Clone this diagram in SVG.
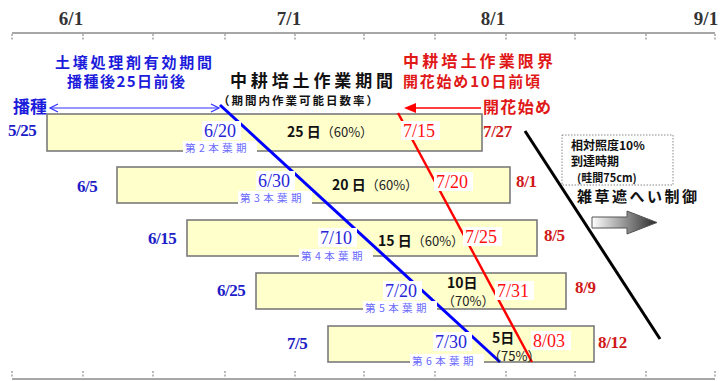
<svg xmlns="http://www.w3.org/2000/svg" width="726" height="381" viewBox="0 0 726 381">
<style>
.axis{stroke:#8a8a8a;stroke-width:1.6;fill:none}
.tick{stroke:#8a8a8a;stroke-width:1.2;stroke-dasharray:2 1.5}
.alab{font-family:'Liberation Serif',serif;font-weight:bold;font-size:19px;fill:#333}
.bar{fill:#ffffcc;stroke:#7a7a7a;stroke-width:1.6}
.ldate{font-family:'Liberation Serif',serif;font-weight:bold;font-size:17px;fill:#1c1cc8;letter-spacing:-0.5px}
.rdate{font-family:'Liberation Serif',serif;font-weight:bold;font-size:17px;fill:#d01818;letter-spacing:-0.3px}
.bdate{font-family:'Liberation Serif',serif;font-size:18px;fill:#2626d6}
.redd{font-family:'Liberation Serif',serif;font-size:18px;fill:#ff1010}
.leaf{font-family:'Noto Sans CJK JP',sans-serif;font-size:10.5px;fill:#6a6aff;letter-spacing:3.4px}
.wbg{fill:#fff}
.cj{font-family:'Noto Sans CJK JP',sans-serif}
.days{font-family:'Noto Sans CJK JP',sans-serif;font-size:14px;fill:#111;font-weight:bold}
.pct{font-family:'Noto Sans CJK JP',sans-serif;font-size:13px;fill:#222}
</style>
<defs>
<linearGradient id="grad" x1="0" y1="0" x2="1" y2="0">
<stop offset="0" stop-color="#ffffff"/>
<stop offset="1" stop-color="#2a2a2a"/>
</linearGradient>
</defs>

<g id="axes">
<line class="axis" x1="12" y1="33" x2="715" y2="33"/>
<line class="axis" x1="12" y1="379" x2="715" y2="379"/>
<g id="ticks-top">
<line class="tick" x1="12" y1="34" x2="12" y2="41"/>
<line class="tick" x1="83" y1="34" x2="83" y2="41"/>
<line class="tick" x1="153" y1="34" x2="153" y2="41"/>
<line class="tick" x1="225" y1="34" x2="225" y2="41"/>
<line class="tick" x1="295" y1="34" x2="295" y2="41"/>
<line class="tick" x1="364" y1="34" x2="364" y2="41"/>
<line class="tick" x1="435" y1="34" x2="435" y2="41"/>
<line class="tick" x1="506" y1="34" x2="506" y2="41"/>
<line class="tick" x1="575" y1="34" x2="575" y2="41"/>
<line class="tick" x1="646" y1="34" x2="646" y2="41"/>
<line class="tick" x1="715" y1="34" x2="715" y2="41"/>
</g>
<g id="ticks-bottom">
<line class="tick" x1="12" y1="371" x2="12" y2="378"/>
<line class="tick" x1="83" y1="371" x2="83" y2="378"/>
<line class="tick" x1="153" y1="371" x2="153" y2="378"/>
<line class="tick" x1="225" y1="371" x2="225" y2="378"/>
<line class="tick" x1="295" y1="371" x2="295" y2="378"/>
<line class="tick" x1="364" y1="371" x2="364" y2="378"/>
<line class="tick" x1="435" y1="371" x2="435" y2="378"/>
<line class="tick" x1="506" y1="371" x2="506" y2="378"/>
<line class="tick" x1="575" y1="371" x2="575" y2="378"/>
<line class="tick" x1="646" y1="371" x2="646" y2="378"/>
<line class="tick" x1="715" y1="371" x2="715" y2="378"/>
</g>
<text class="alab" x="71" y="25" text-anchor="middle">6/1</text>
<text class="alab" x="289" y="25" text-anchor="middle">7/1</text>
<text class="alab" x="493" y="25" text-anchor="middle">8/1</text>
<text class="alab" x="706" y="25" text-anchor="middle">9/1</text>
</g>

<g id="headers">
<text class="cj" x="55" y="68" font-size="15" font-weight="bold" fill="#1c1cdc" textLength="157" lengthAdjust="spacing">土壌処理剤有効期間</text>
<text class="cj" x="67" y="87" font-size="15" font-weight="bold" fill="#1c1cdc" textLength="118" lengthAdjust="spacing">播種後25日前後</text>
<text class="cj" x="13" y="113" font-size="17" font-weight="bold" fill="#1c1cdc">播種</text>
<text class="cj" x="230" y="87" font-size="17" font-weight="bold" fill="#111" textLength="163" lengthAdjust="spacing">中耕培土作業期間</text>
<text class="cj" x="218" y="105" font-size="11.5" font-weight="bold" fill="#111" textLength="160" lengthAdjust="spacing">（期間内作業可能日数率）</text>
<text class="cj" x="403" y="67" font-size="16" font-weight="bold" fill="#e01818" textLength="150" lengthAdjust="spacing">中耕培土作業限界</text>
<text class="cj" x="403" y="87" font-size="15" font-weight="bold" fill="#e01818" textLength="137" lengthAdjust="spacing">開花始め10日前頃</text>
<text class="cj" x="483" y="113" font-size="16" font-weight="bold" fill="#e01818" textLength="68" lengthAdjust="spacing">開花始め</text>
</g>

<g id="bar1"><rect class="bar" x="47" y="114" width="435" height="37"/></g>
<g id="bar2"><rect class="bar" x="117" y="167" width="393" height="36"/></g>
<g id="bar3"><rect class="bar" x="187" y="220" width="350" height="36"/></g>
<g id="bar4"><rect class="bar" x="256" y="273" width="310" height="36"/></g>
<g id="bar5"><rect class="bar" x="328" y="326" width="266" height="36"/></g>

<g id="connectors">
<line x1="50" y1="108" x2="219" y2="108" stroke="#3030ff" stroke-width="1.2"/>
<polyline points="58,104 50,108 58,112" fill="none" stroke="#3030ff" stroke-width="1.2"/>
<polyline points="211,104 219,108 211,112" fill="none" stroke="#3030ff" stroke-width="1.2"/>
<line x1="481" y1="108" x2="414" y2="108" stroke="#ff0000" stroke-width="1.6"/>
<polygon points="404,108 416,103 416,113" fill="#ff0000"/>
<line x1="220" y1="105" x2="500" y2="362" stroke="#0000ff" stroke-width="3"/>
<line x1="398" y1="113" x2="532" y2="362" stroke="#ff0000" stroke-width="2.4"/>
<line x1="525" y1="131" x2="660" y2="339" stroke="#000" stroke-width="3"/>
</g>

<g id="left-dates">
<text class="ldate" x="8" y="136">5/25</text>
<text class="ldate" x="77" y="192">6/5</text>
<text class="ldate" x="148" y="244">6/15</text>
<text class="ldate" x="217" y="296">6/25</text>
<text class="ldate" x="287" y="349">7/5</text>
</g>

<g id="right-dates">
<text class="rdate" x="483" y="137">7/27</text>
<text class="rdate" x="516" y="187">8/1</text>
<text class="rdate" x="544" y="241">8/5</text>
<text class="rdate" x="575" y="293">8/9</text>
<text class="rdate" x="598" y="348">8/12</text>
</g>

<g id="bar-texts">
<text x="287" y="137"><tspan class="days">25 日</tspan><tspan class="pct">（60%）</tspan></text>
<text x="332" y="190"><tspan class="days">20 日</tspan><tspan class="pct">（60%）</tspan></text>
<text x="378" y="246"><tspan class="days">15 日</tspan><tspan class="pct">（60%）</tspan></text>
<text class="days" x="447" y="288">10日</text>
<text class="pct" x="442" y="306">（70%）</text>
<text class="days" x="492" y="343" font-size="13">5日</text>
<text class="pct" x="488" y="361" font-size="12">（75%）</text>
</g>

<g id="blue-labels">
<rect class="wbg" x="202" y="121" width="39" height="19"/>
<text class="bdate" x="204" y="137">6/20</text>
<rect class="wbg" x="183" y="141" width="74" height="13"/>
<text class="leaf" x="185" y="152">第2本葉期</text>
<rect class="wbg" x="256" y="171" width="39" height="19"/>
<text class="bdate" x="258" y="187">6/30</text>
<rect class="wbg" x="238" y="191" width="74" height="13"/>
<text class="leaf" x="240" y="202">第3本葉期</text>
<rect class="wbg" x="318" y="228" width="39" height="19"/>
<text class="bdate" x="320" y="244">7/10</text>
<rect class="wbg" x="299" y="249" width="74" height="13"/>
<text class="leaf" x="301" y="260">第4本葉期</text>
<rect class="wbg" x="383" y="281" width="39" height="19"/>
<text class="bdate" x="385" y="297">7/20</text>
<rect class="wbg" x="363" y="301" width="74" height="13"/>
<text class="leaf" x="365" y="312">第5本葉期</text>
<rect class="wbg" x="433" y="332" width="39" height="19"/>
<text class="bdate" x="435" y="348">7/30</text>
<rect class="wbg" x="410" y="354" width="74" height="13"/>
<text class="leaf" x="412" y="365">第6本葉期</text>
</g>

<g id="red-labels">
<rect class="wbg" x="401" y="121" width="39" height="19"/>
<text class="redd" x="403" y="137">7/15</text>
<rect class="wbg" x="434" y="172" width="39" height="19"/>
<text class="redd" x="436" y="188">7/20</text>
<rect class="wbg" x="463" y="227" width="39" height="19"/>
<text class="redd" x="465" y="243">7/25</text>
<rect class="wbg" x="495" y="281" width="39" height="19"/>
<text class="redd" x="497" y="297">7/31</text>
<rect class="wbg" x="531" y="331" width="40" height="19"/>
<text class="redd" x="533" y="347">8/03</text>
</g>

<g id="light-box">
<rect x="562" y="135" width="111" height="50" fill="none" stroke="#888" stroke-width="1" stroke-dasharray="1.5 1.5"/>
<text class="cj" x="571" y="150" font-size="12" font-weight="bold" fill="#111">相対照度10%</text>
<text class="cj" x="571" y="166" font-size="12" font-weight="bold" fill="#111">到達時期</text>
<text class="cj" x="577" y="182" font-size="11" font-weight="bold" fill="#111">(畦間75cm)</text>
</g>

<g id="weed-control">
<text class="cj" x="577" y="202" font-size="15" font-weight="bold" fill="#111" textLength="120" lengthAdjust="spacing">雑草遮へい制御</text>
<path d="M592,217 L627,217 L627,211 L657,222.5 L627,234 L627,228 L592,228 Z" fill="url(#grad)" stroke="#555" stroke-width="1"/>
</g>
</svg>
